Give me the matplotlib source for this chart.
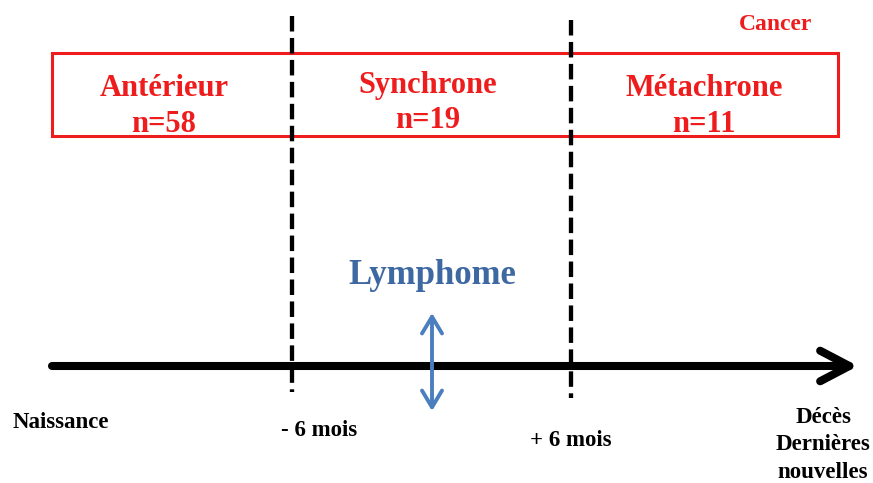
import matplotlib.pyplot as plt
from matplotlib.patches import Rectangle

# groups of cancer relative to lymphoma diagnosis
categories = ["Antérieur", "Synchrone", "Métachrone"]
counts = [58, 19, 11]
cat_x = [164, 428, 704]
cat_y = [88, 85, 88]
n_y = [125, 120, 125]

# timeline marks
time_labels = ["Naissance", "- 6 mois", "+ 6 mois", "Décès\nDernières\nnouvelles"]
time_x = [61, 319, 571, 823]
time_y = [422, 430, 440, 445]
cut_x = [292, 571]

RED = "#ee1c1c"
BLUE = "#4a7ebf"
BLUE_TXT = "#3d68a2"

plt.rcParams['font.family'] = ['Liberation Serif', 'DejaVu Serif']
fig = plt.figure(figsize=(8.73, 4.83), dpi=100)
ax = fig.add_axes([0, 0, 1, 1])
ax.set_xlim(0, 873)
ax.set_ylim(483, 0)
ax.axis('off')

# red frame
ax.add_patch(Rectangle((52, 53), 786, 83, fill=False, edgecolor=RED, lw=2.2))
ax.text(776, 25, "Cancer", color=RED, fontsize=17, fontweight='bold', ha='center', va='center')

for name, n, x, y, y2 in zip(categories, counts, cat_x, cat_y, n_y):
    ax.text(x, y, name, color=RED, fontsize=22, fontweight='bold', ha='center', va='center')
    ax.text(x, y2, "n=%d" % n, color=RED, fontsize=22, fontweight='bold', ha='center', va='center')

# dashed cut-offs
ax.plot([cut_x[0], cut_x[0]], [16, 392], color='black', lw=3.1, ls=(0, (3.6, 1.5)),
        dash_capstyle='butt')
ax.plot([cut_x[1], cut_x[1]], [20, 398], color='black', lw=3.1, ls=(0, (3.6, 1.5)),
        dash_capstyle='butt')

# main time axis
ax.annotate("", xy=(858, 366), xytext=(52, 366),
            arrowprops=dict(arrowstyle="->, head_length=1.05, head_width=0.55",
                            mutation_scale=20, lw=5.8, color='black',
                            capstyle='round', shrinkA=0, shrinkB=0))

# lymphoma marker
ax.annotate("", xy=(432, 313), xytext=(432, 411),
            arrowprops=dict(arrowstyle="<->, head_length=0.6, head_width=0.36",
                            mutation_scale=20, lw=2.8, color=BLUE,
                            shrinkA=0, shrinkB=0))
ax.text(432, 275, "Lymphome", color=BLUE_TXT, fontsize=25, fontweight='bold', ha='center', va='center')

for lab, x, y in zip(time_labels, time_x, time_y):
    ax.text(x, y, lab, fontsize=16.5, fontweight='bold', ha='center', va='center', linespacing=1.4)

fig.savefig("out.png", dpi=100)
